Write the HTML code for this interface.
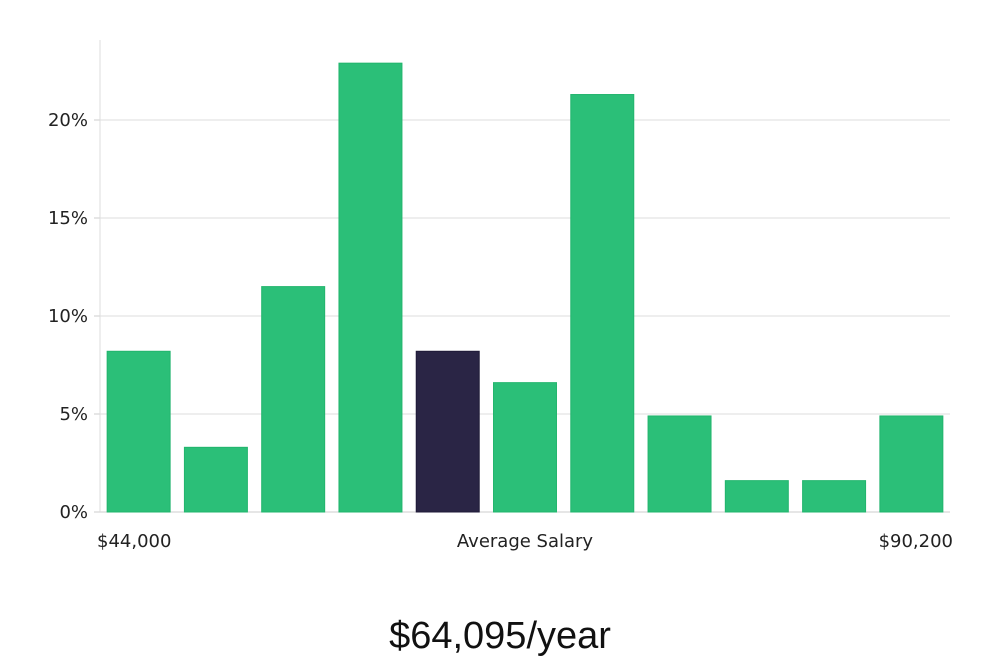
<!DOCTYPE html>
<html><head><meta charset="utf-8"><style>
body{margin:0;background:#fff;}
svg{display:block;font-family:"DejaVu Sans","Liberation Sans",sans-serif;}
</style></head><body>
<svg id="chart" width="1000" height="660" viewBox="0 0 1000 660">
<g id="grid"></g>
<g id="bars"></g>
<g id="yaxis"></g>
<text x="97" y="547" font-size="18" fill="#222">$44,000</text>
<text x="525" y="547" font-size="18" fill="#222" text-anchor="middle">Average Salary</text>
<text x="953" y="547" font-size="18" fill="#222" text-anchor="end">$90,200</text>
<text x="500" y="648" font-size="38" fill="#111" text-anchor="middle" font-family="'Liberation Sans',sans-serif" font-weight="300">$64,095/year</text>
</svg>
<script>
const categories=["b1","b2","b3","b4","b5","b6","b7","b8","b9","b10","b11"];
const values=[8.2,3.3,11.5,22.9,8.2,6.6,21.3,4.9,1.6,1.6,4.9];
const highlight=[false,false,false,false,true,false,false,false,false,false,false];
const yTicks=[0,5,10,15,20];
const yTickLabels=["0%","5%","10%","15%","20%"];
const NS="http://www.w3.org/2000/svg";
const x0=100,x1=950,yBase=512,pxPer=19.6;
const y=v=>yBase-v*pxPer;
const band=(x1-x0)/categories.length;
const bw=band*0.815;
const grid=document.getElementById('grid'),bars=document.getElementById('bars'),ya=document.getElementById('yaxis');
function mk(t,a,p){const e=document.createElementNS(NS,t);for(const k in a)e.setAttribute(k,a[k]);p.appendChild(e);return e;}
yTicks.forEach((t,i)=>{
 const l=mk('line',{x1:x0,x2:x1,y1:y(t),y2:y(t),stroke:t===0?'#ccc':'#ddd','stroke-width':1},grid);
 
 
 const tk=mk('line',{x1:x0-6,x2:x0,y1:y(t),y2:y(t),stroke:'#ccc'},ya);
 
 
 const tx=mk('text',{x:x0-12,y:y(t)+6,'font-size':18,fill:'#222','text-anchor':'end'},ya);
 tx.textContent=yTickLabels[i];
 
 
});
const ax=mk('line',{x1:x0,x2:x0,y1:40,y2:yBase,stroke:'#ddd'},ya);


values.forEach((v,i)=>{
 const cx=x0+band*i+band/2;
 const r=mk('rect',{x:cx-bw/2,y:y(v),width:bw,height:yBase-y(v),fill:highlight[i]?'#2a2545':'#2bbf78',stroke:highlight[i]?'#1f1a38':'#22b56d','stroke-width':1},bars);
 
 
});
</script>
</body></html>
